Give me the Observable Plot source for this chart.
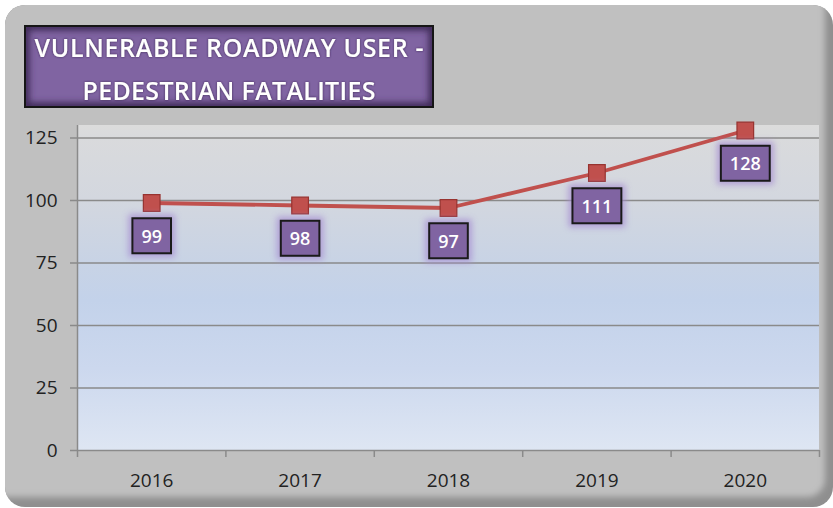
<!DOCTYPE html>
<html>
<head>
<meta charset="utf-8">
<script src="https://cdn.jsdelivr.net/npm/d3@7"></script>
<script src="https://cdn.jsdelivr.net/npm/@observablehq/plot@0.6"></script>
<style>
  html, body { margin: 0; padding: 0; background: #ffffff; }
  #chart { width: 833px; height: 508px; }
</style>
</head>
<body>
<div id="chart"></div>
<script>
// ---- data ----
const years = [2016, 2017, 2018, 2019, 2020];
const fatalities = [99, 98, 97, 111, 128];
const yTicks = [0, 25, 50, 75, 100, 125];
const titleLines = ["VULNERABLE ROADWAY USER -", "PEDESTRIAN FATALITIES"];

const data = years.map((year, i) => ({year, value: fatalities[i]}));
const boundaries = years.map(d => d - 0.5).concat([years[years.length - 1] + 0.5]);

const gridColor = "#8a8a8a";
const textColor = "#222222";
const lineColor = "#c0504d";

const chart = Plot.plot({
  width: 833,
  height: 508,
  marginLeft: 77,
  marginRight: 14,
  marginTop: 125,
  marginBottom: 58,
  style: {background: "transparent", fontFamily: "'Open Sans', sans-serif", color: textColor},
  x: {domain: [boundaries[0], boundaries[boundaries.length - 1]]},
  y: {domain: [0, 130]},
  marks: [
    Plot.gridY(yTicks.filter(d => d > 0), {stroke: gridColor, strokeOpacity: 1, strokeWidth: 1.5}),
    Plot.ruleX([boundaries[0]], {stroke: gridColor, strokeWidth: 1.5}),
    Plot.ruleY([0], {stroke: gridColor, strokeWidth: 1.5}),
    Plot.axisY({ticks: yTicks, tickSize: 7, tickFormat: () => "", stroke: gridColor, strokeWidth: 1.5, label: null}),
    Plot.axisY({ticks: yTicks, tickSize: 0, tickPadding: 20, fill: textColor, fontSize: 19, label: null}),
    Plot.axisX({ticks: boundaries, tickSize: 7, tickFormat: () => "", stroke: gridColor, strokeWidth: 1.5, label: null}),
    Plot.axisX({ticks: years, tickSize: 0, tickPadding: 23, tickFormat: d => String(d), fill: textColor, fontSize: 19, label: null}),
    Plot.line(data, {x: "year", y: "value", stroke: lineColor, strokeWidth: 3.8}),
    Plot.dot(data, {x: "year", y: "value", symbol: "square", r: 9.4, fill: lineColor, stroke: "#973330", strokeWidth: 1.2}),
    Plot.text(data, {x: "year", y: "value", text: d => String(d.value), dy: 34, fill: "white", fontSize: 18, fontWeight: 600})
  ]
});
document.getElementById("chart").append(chart);

const svg = d3.select(chart);
const xs = chart.scale("x"), ys = chart.scale("y");
const defs = svg.insert("defs", ":first-child");

// plot background gradient
const grad = defs.append("linearGradient").attr("id", "plotBg").attr("x1", 0).attr("y1", 0).attr("x2", 0).attr("y2", 1);
[[0, "#dcdcdc"], [0.04, "#d9dadc"], [0.23, "#d3d7df"], [0.42, "#c8d3e5"], [0.54, "#c3d2ea"], [0.75, "#ccd8ee"], [1, "#dee6f3"]]
  .forEach(([o, c]) => grad.append("stop").attr("offset", o).attr("stop-color", c));

defs.append("clipPath").attr("id", "frameClip")
  .append("rect").attr("x", 5).attr("y", 5).attr("width", 828).attr("height", 502).attr("rx", 20);
defs.append("filter").attr("id", "soft").attr("x", "-20%").attr("y", "-20%").attr("width", "140%").attr("height", "140%")
  .append("feGaussianBlur").attr("stdDeviation", 3);
defs.append("filter").attr("id", "glow").attr("x", "-50%").attr("y", "-50%").attr("width", "200%").attr("height", "200%")
  .append("feGaussianBlur").attr("stdDeviation", 3);
defs.append("clipPath").attr("id", "titleClip")
  .append("rect").attr("x", 25).attr("y", 26).attr("width", 408).attr("height", 81);
const ts = defs.append("filter").attr("id", "tshadow").attr("x", "-10%").attr("y", "-30%").attr("width", "120%").attr("height", "160%");
ts.append("feDropShadow").attr("dx", 0).attr("dy", 0).attr("stdDeviation", 1.2).attr("flood-color", "#2a1a3d").attr("flood-opacity", 0.8);

// background frame + plot area
const bg = svg.insert("g", "g");
const fr = bg.append("g").attr("clip-path", "url(#frameClip)");
fr.append("rect").attr("x", 5).attr("y", 5).attr("width", 828).attr("height", 502).attr("fill", "#8f8f8f");
fr.append("rect").attr("x", -10).attr("y", -10).attr("width", 835).attr("height", 507).attr("rx", 18)
  .attr("fill", "#c0c0c0").attr("filter", "url(#soft)");
const [x0, x1] = xs.range, [y0, y1] = ys.range;
bg.append("rect").attr("x", x0).attr("y", Math.min(y0, y1)).attr("width", x1 - x0).attr("height", Math.abs(y0 - y1))
  .attr("fill", "url(#plotBg)");

// value label boxes
const svgRect = chart.getBoundingClientRect();
const labelGroup = svg.select('g[aria-label="text"]');
const boxes = svg.insert("g", 'g[aria-label="text"]');
labelGroup.selectAll("text").each(function () {
  const r = this.getBoundingClientRect();
  const cx = r.x - svgRect.x + r.width / 2;
  const cy = r.y - svgRect.y + r.height / 2;
  const w = r.width + 18, h = 35;
  boxes.append("rect").attr("x", cx - w / 2 - 4).attr("y", cy - h / 2 - 4).attr("width", w + 8).attr("height", h + 8)
    .attr("fill", "#a58bd0").attr("opacity", 0.75).attr("filter", "url(#glow)");
  boxes.append("rect").attr("x", cx - w / 2).attr("y", cy - h / 2).attr("width", w).attr("height", h)
    .attr("fill", "#8064a2").attr("stroke", "#1a1a1a").attr("stroke-width", 2);
});

// title box
const tg = svg.append("g");
tg.append("rect").attr("x", 25).attr("y", 26).attr("width", 408).attr("height", 81).attr("fill", "#8064a2");
tg.append("g").attr("clip-path", "url(#titleClip)")
  .append("rect").attr("x", 25).attr("y", 26).attr("width", 408).attr("height", 81)
  .attr("fill", "none").attr("stroke", "#3f2b58").attr("stroke-width", 9).attr("filter", "url(#soft)");
tg.append("rect").attr("x", 25).attr("y", 26).attr("width", 408).attr("height", 81)
  .attr("fill", "none").attr("stroke", "#161616").attr("stroke-width", 2);
const titleText = tg.append("g").attr("filter", "url(#tshadow)");
const tlen = [389, 293], tbase = [57, 100];
titleLines.forEach((t, i) => {
  titleText.append("text").attr("x", 229).attr("y", tbase[i]).attr("text-anchor", "middle")
    .attr("font-family", "'Open Sans', sans-serif").attr("font-weight", 600).attr("font-size", 25)
    .attr("fill", "#ffffff").attr("textLength", tlen[i]).attr("lengthAdjust", "spacing").text(t);
});
</script>
</body>
</html>
